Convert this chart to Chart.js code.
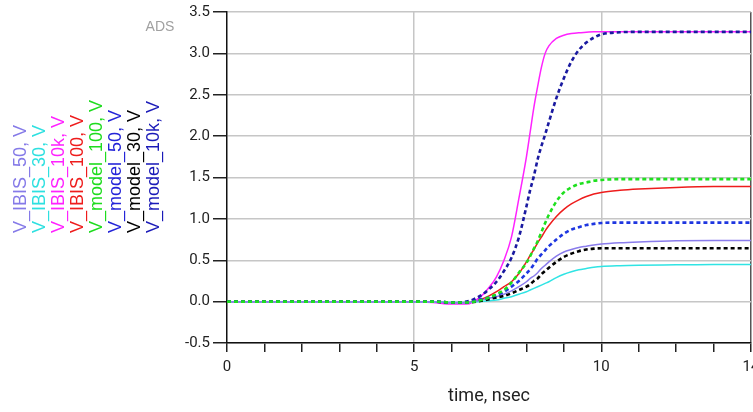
<!DOCTYPE html>
<html>
<head>
<meta charset="utf-8">
<script src="https://cdn.jsdelivr.net/npm/chart.js@4"></script>
<style>
  html, body { margin: 0; padding: 0; background: #fff; }
  #wrap { width: 753px; height: 412px; }
</style>
</head>
<body>
<div id="wrap"><canvas id="grafico" width="753" height="412"></canvas></div>
<script>
// time axis (nsec), shared by every trace
const time = [0, 5, 5.5, 6, 6.4, 6.8, 7.0, 7.2, 7.4, 7.6, 7.8, 8.0, 8.1, 8.2, 8.3, 8.4, 8.5, 8.6, 8.8, 9.0, 9.2, 9.4, 9.6, 9.8, 10, 10.5, 11, 12, 13, 14];

// voltages
const vIbis50   = [0, 0, 0, -0.015, -0.015, 0.02, 0.04, 0.06, 0.09, 0.13, 0.18, 0.24, 0.28, 0.31, 0.35, 0.40, 0.44, 0.48, 0.55, 0.60, 0.63, 0.655, 0.67, 0.685, 0.695, 0.71, 0.72, 0.735, 0.74, 0.74];
const vIbis30   = [0, 0, 0, -0.01, -0.01, 0, 0.01, 0.02, 0.04, 0.06, 0.09, 0.12, 0.14, 0.16, 0.18, 0.20, 0.22, 0.24, 0.29, 0.33, 0.36, 0.385, 0.40, 0.415, 0.425, 0.435, 0.44, 0.445, 0.45, 0.45];
const vIbis10k  = [0, 0, -0.01, -0.03, -0.03, 0.07, 0.17, 0.30, 0.50, 0.78, 1.25, 1.75, 2.05, 2.35, 2.60, 2.83, 3.00, 3.09, 3.18, 3.22, 3.24, 3.25, 3.255, 3.26, 3.26, 3.26, 3.26, 3.26, 3.26, 3.26];
const vIbis100  = [0, 0, 0, -0.015, -0.015, 0.03, 0.07, 0.12, 0.18, 0.24, 0.34, 0.48, 0.56, 0.63, 0.71, 0.78, 0.855, 0.92, 1.03, 1.115, 1.18, 1.23, 1.27, 1.30, 1.32, 1.345, 1.36, 1.38, 1.39, 1.39];
const vModel100 = [0, 0, 0, -0.01, -0.01, 0.02, 0.05, 0.09, 0.14, 0.23, 0.35, 0.47, 0.55, 0.64, 0.73, 0.84, 0.95, 1.05, 1.21, 1.32, 1.38, 1.42, 1.44, 1.46, 1.47, 1.48, 1.48, 1.48, 1.48, 1.48];
const vModel50  = [0, 0, 0, -0.01, -0.01, 0.03, 0.05, 0.08, 0.12, 0.18, 0.25, 0.34, 0.39, 0.45, 0.52, 0.57, 0.62, 0.67, 0.75, 0.82, 0.87, 0.90, 0.925, 0.94, 0.95, 0.955, 0.955, 0.955, 0.955, 0.955];
const vModel30  = [0, 0, 0, -0.01, -0.01, 0.01, 0.03, 0.05, 0.07, 0.10, 0.14, 0.18, 0.21, 0.25, 0.28, 0.33, 0.37, 0.41, 0.48, 0.54, 0.58, 0.61, 0.63, 0.64, 0.645, 0.645, 0.645, 0.645, 0.645, 0.645];
const vModel10k = [0, 0, 0, -0.01, 0.0, 0.08, 0.15, 0.24, 0.37, 0.53, 0.78, 1.15, 1.35, 1.52, 1.72, 1.88, 2.02, 2.17, 2.46, 2.70, 2.90, 3.04, 3.13, 3.19, 3.23, 3.255, 3.26, 3.26, 3.26, 3.26];

const seriesNames = ['V_IBIS_50', 'V_IBIS_30', 'V_IBIS_10k', 'V_IBIS_100', 'V_model_100', 'V_model_50', 'V_model_30', 'V_model_10k'];
const seriesValues = [vIbis50, vIbis30, vIbis10k, vIbis100, vModel100, vModel50, vModel30, vModel10k];
const xTickLabels = [0, 5, 10, 14];

const cores = ['#8a7cec', '#30e4e4', '#ff22ff', '#ee1c1c', '#1ee01e', '#1e36e0', '#000000', '#1a1aa0'];
const legendaCores = ['#857ae8', '#2ee0e0', '#ff22ff', '#ee1c1c', '#1edc1e', '#2424d8', '#000000', '#1a1ab8'];

const datasets = seriesNames.map((nome, i) => {
  const modelo = nome.startsWith('V_model');
  return {
    label: nome,
    data: time.map((t, k) => ({ x: t, y: seriesValues[i][k] })),
    borderColor: cores[i],
    borderWidth: modelo ? 2.6 : 1.5,
    borderDash: modelo ? [4, 3] : [],
    pointRadius: 0,
    fill: false,
    cubicInterpolationMode: 'monotone',
    order: modelo ? 0 : 1
  };
});

// legenda vertical na esquerda + marca ADS
const legendaVertical = {
  id: 'legendaVertical',
  afterDraw(chart) {
    const c = chart.ctx;
    c.save();
    c.font = '14px "Liberation Sans", Arial, sans-serif';
    c.fillStyle = '#a0a0a0';
    c.textAlign = 'center';
    c.textBaseline = 'middle';
    c.fillText('ADS', 160, 27);
    c.font = '18px "Liberation Sans", Arial, sans-serif';
    c.textAlign = 'left';
    seriesNames.forEach((nome, i) => {
      c.save();
      c.translate(21 + i * 19, 233);
      c.rotate(-Math.PI / 2);
      c.fillStyle = legendaCores[i];
      c.fillText(nome + ', V', 0, 0);
      c.restore();
    });
    c.restore();
  }
};

const ctx = document.getElementById('grafico').getContext('2d');

const grafico = new Chart(ctx, {
  type: 'line',
  data: { datasets },
  plugins: [legendaVertical],
  options: {
    responsive: false,
    animation: false,
    layout: { padding: { top: 12, right: 2, left: 0, bottom: 0 } },
    plugins: {
      legend: { display: false },
      tooltip: { enabled: false }
    },
    scales: {
      x: {
        type: 'linear',
        min: 0,
        max: 14,
        ticks: {
          stepSize: 1,
          autoSkip: false,
          maxRotation: 0,
          padding: 6,
          color: '#222',
          font: { family: 'Roboto', size: 15 },
          callback: v => xTickLabels.includes(v) ? String(v) : ''
        },
        grid: {
          color: c => {
            const v = c.tick ? c.tick.value : null;
            if (v === 5 || v === 10) return '#c6c6c6';
            if (v === 14) return '#555';
            return 'rgba(0,0,0,0)';
          },
          lineWidth: 1.5,
          tickColor: '#222',
          tickLength: 9,
          tickWidth: 1.5
        },
        border: { display: true, color: '#111', width: 1.5 },
        title: {
          display: true,
          text: 'time, nsec',
          color: '#222',
          font: { family: 'Roboto', size: 18 },
          padding: { top: 0, bottom: 5 }
        },
        afterFit(scale) {
          scale.height = 69;
          scale.paddingLeft = 0;
          scale.paddingRight = 0;
        }
      },
      y: {
        min: -0.5,
        max: 3.5,
        ticks: {
          stepSize: 0.5,
          padding: 3,
          color: '#222',
          font: { family: 'Roboto', size: 15 },
          callback: v => v.toFixed(1)
        },
        grid: {
          color: '#c6c6c6',
          lineWidth: 1.5,
          tickColor: '#222',
          tickLength: 14,
          tickWidth: 1.5
        },
        border: { display: true, color: '#111', width: 1.5 },
        afterFit(scale) {
          scale.width = 227;
          scale.paddingTop = 0;
          scale.paddingBottom = 0;
        }
      }
    }
  }
});
</script>
</body>
</html>
